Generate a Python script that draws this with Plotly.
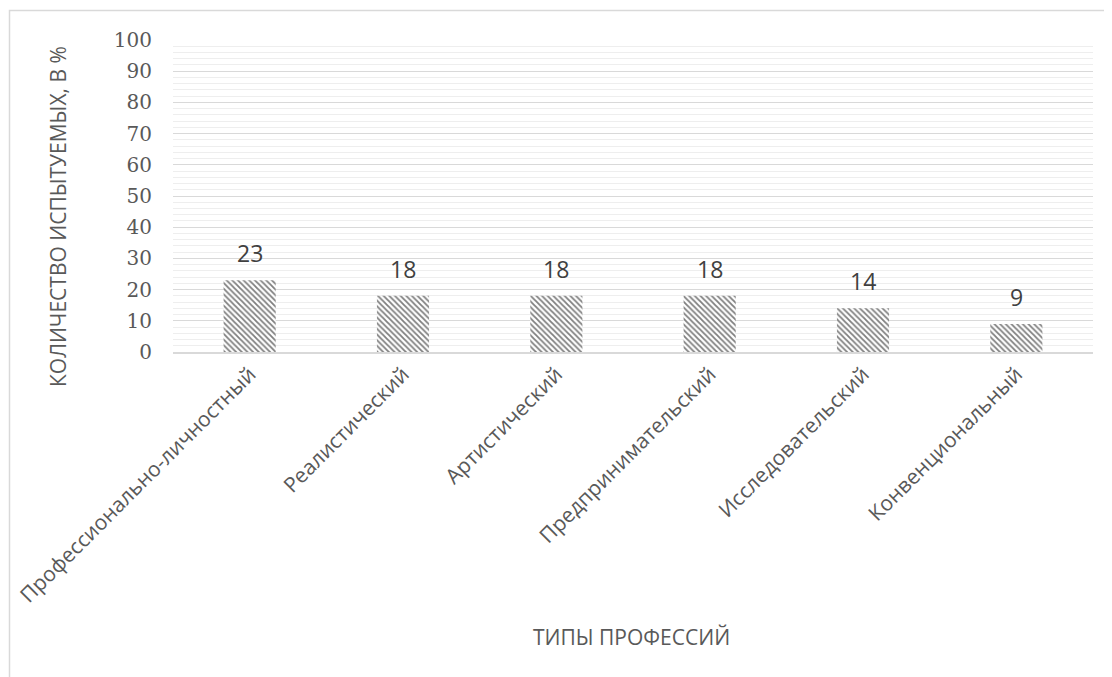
import plotly.graph_objects as go

categories = ["Профессионально-личностный", "Реалистический", "Артистический",
              "Предпринимательский", "Исследовательский", "Конвенциональный"]
values = [23, 18, 18, 18, 14, 9]
y_ticks = [0, 10, 20, 30, 40, 50, 60, 70, 80, 90, 100]
x_title = "ТИПЫ ПРОФЕССИЙ"
y_title = "КОЛИЧЕСТВО ИСПЫТУЕМЫХ, В %"

W, H = 1112, 677
OFF = 8  # page body margin
PL, PR, PT, PB = 173, 1093, 40, 352  # plot area in screen pixels
ML, MT = PL - OFF, PT - OFF
MR = W - (PR - OFF)
MB = H - (PB - OFF)
PW, PH = PR - PL, PB - PT

fig = go.Figure()
fig.add_trace(go.Bar(
    x=categories, y=values,
    marker=dict(color="white", line=dict(width=0),
                pattern=dict(shape="\\", fgcolor="#000000", bgcolor="white",
                             size=4, solidity=0.45, fillmode="overlay")),
    hoverinfo="skip",
))

for c, v in zip(categories, values):
    fig.add_annotation(x=c, y=v, text=str(v), showarrow=False, yshift=27,
                       yanchor="middle",
                       font=dict(family="Open Sans", size=23, color="#404040"))

def px_to_paper_x(px):
    return (px - PL) / PW

def px_to_paper_y(py):
    return (PB - py) / PH

fig.add_annotation(xref="paper", yref="paper", x=px_to_paper_x(631), y=px_to_paper_y(637),
                   text=x_title, showarrow=False, xanchor="center", yanchor="middle",
                   font=dict(family="Open Sans", size=21, color="#595959"))
fig.add_annotation(xref="paper", yref="paper", x=px_to_paper_x(58), y=px_to_paper_y(217),
                   text=y_title, showarrow=False, xanchor="center", yanchor="middle",
                   textangle=-90,
                   font=dict(family="Open Sans", size=21, color="#595959"))

fig.add_shape(type="rect", xref="paper", yref="paper",
              x0=px_to_paper_x(9.5), x1=px_to_paper_x(1300),
              y0=px_to_paper_y(900), y1=px_to_paper_y(10.5),
              line=dict(color="#d9d9d9", width=1.5), fillcolor="rgba(0,0,0,0)",
              layer="below")

fig.update_layout(
    width=W, height=H,
    margin=dict(l=ML, r=MR, t=MT, b=MB, autoexpand=False),
    paper_bgcolor="white", plot_bgcolor="white",
    bargap=0.66, showlegend=False,
    xaxis=dict(type="category", showgrid=False, showline=True, linecolor="#d9d9d9",
               linewidth=1.5, tickangle=-45, ticks="",
               tickfont=dict(family="Open Sans", size=21, color="#595959")),
    yaxis=dict(range=[0, 100], tickvals=y_ticks, ticktext=[str(t) for t in y_ticks],
               showgrid=True, gridcolor="#d9d9d9", gridwidth=1, zeroline=False,
               showline=False, ticks="", ticklabelstandoff=20,
               minor=dict(dtick=2, showgrid=True, gridcolor="#eeeeee", gridwidth=1),
               tickfont=dict(family="DejaVu Serif", size=20, color="#595959")),
)

fig.write_html("out.html")
